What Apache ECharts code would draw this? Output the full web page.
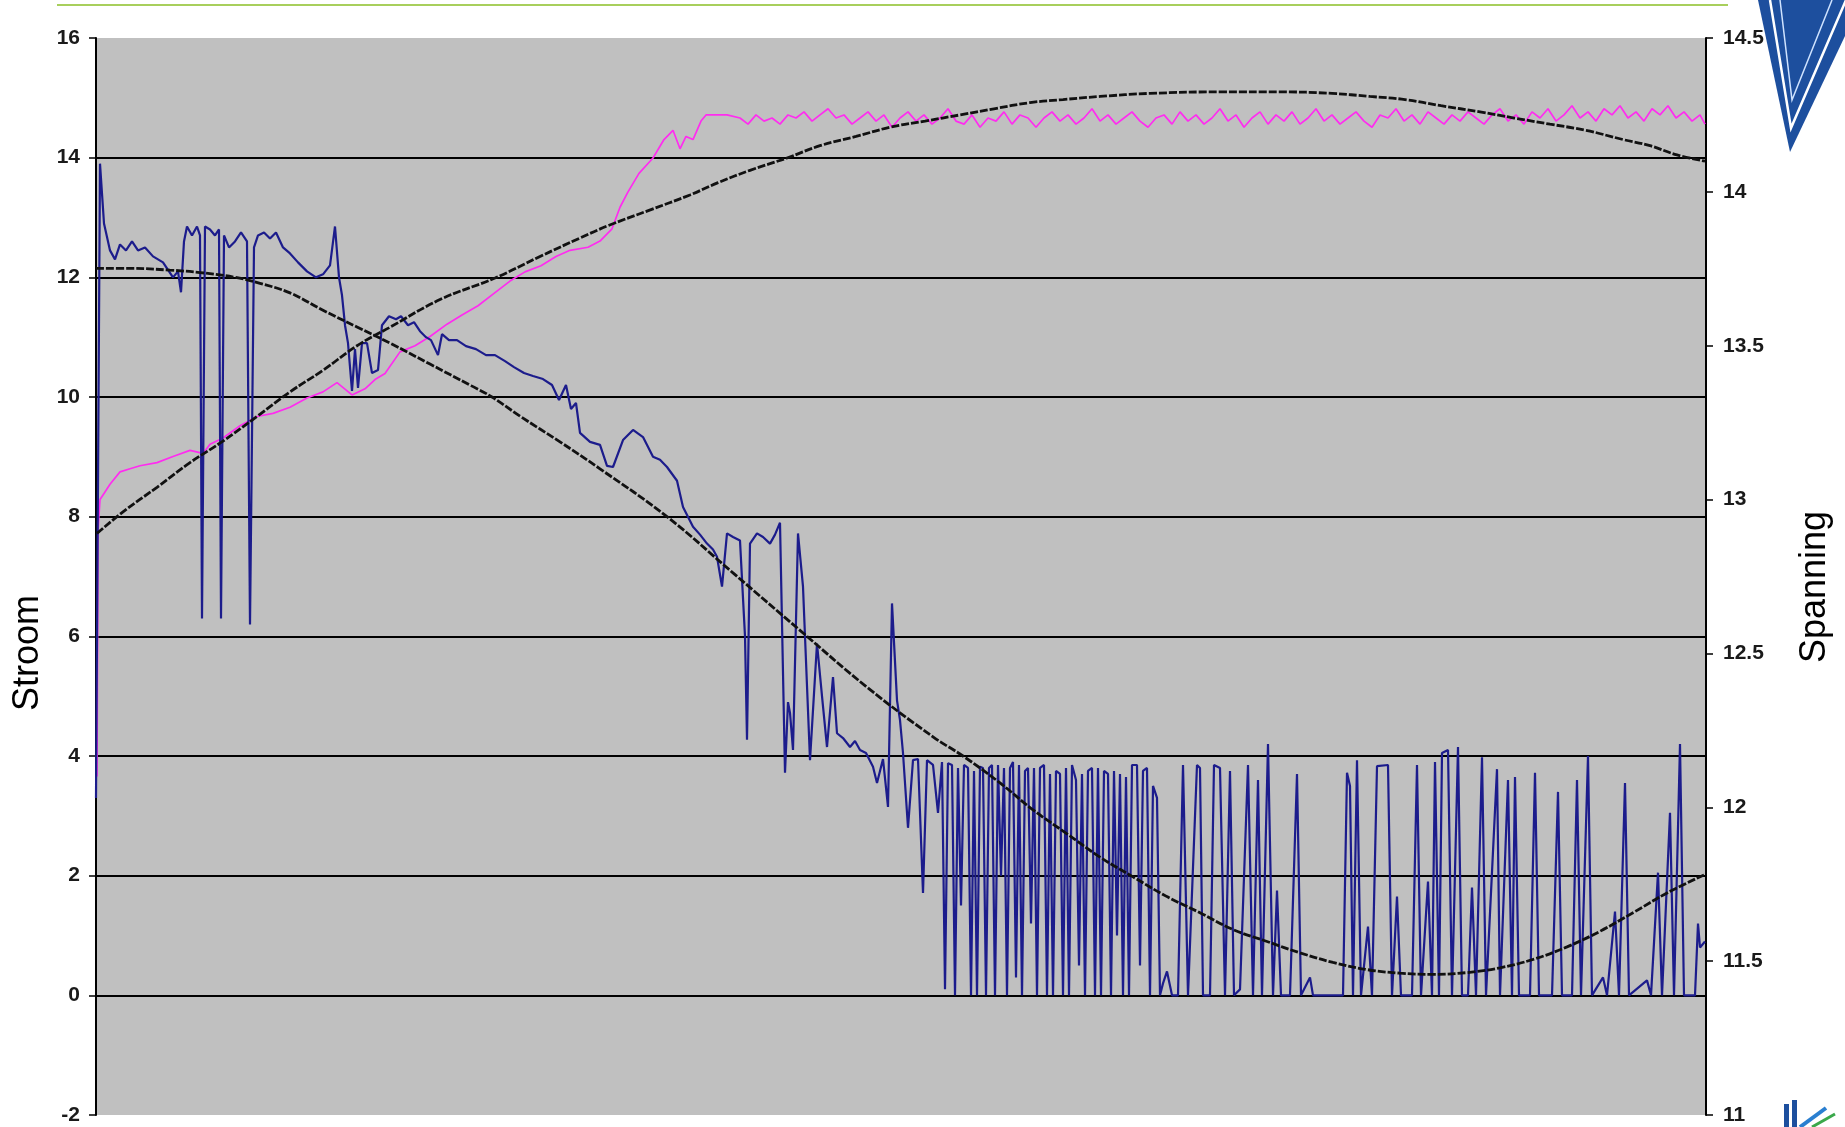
<!DOCTYPE html>
<html><head><meta charset="utf-8">
<script src="https://cdn.jsdelivr.net/npm/echarts@6/dist/echarts.min.js"></script>
<style>html,body{margin:0;padding:0;background:#fff;}#c{width:1845px;height:1127px;}</style>
</head><body><div id="c"></div>
<script>
// ---- tick labels ----
const stroomTicks = [-2, 0, 2, 4, 6, 8, 10, 12, 14, 16];
const spanningTicks = [11, 11.5, 12, 12.5, 13, 13.5, 14, 14.5];

// ---- Stroom (current, left axis) : time index, value ----
const stroomT = [0,2,4,7,9.5,12,15,18,21,24.5,28.5,33.5,38.5,41,42.5,44,45.5,48,50.5,52,53,54.5,57,59.5,61.5,62.5,64,66.5,69.5,72.5,75.5,77,79,81,84,87,90,93.5,97,101,105.5,110,113.5,117,119.5,121.5,123,124.5,126,128,129.5,131,133,135.5,138,141,143,146.5,150,152.5,156,159,162,165,167.5,171,173,176.5,180.5,185,190,195,199.5,204.5,209,214,218.5,223.5,228,231.5,235,237.5,240,242,247,252,255.5,258.5,263.5,268.5,273.5,278.5,282,285.5,290.5,293.5,298.5,302,305.5,308.5,310.5,313,315.5,318.5,322,324.5,325.5,327,330.5,333.5,337,339.5,342,344.5,346,347,348.5,351,353.5,357,360.5,363,365.5,368.5,370.5,373.5,377,379.5,382,385,388.5,390.5,393.5,396,398,400.5,402,403.5,406,408.5,411,413.5,415.5,418.5,421,423,
424.5,426,428,429.5,431,432.5,434,436,437.5,439,440.5,442,443.5,445,446.5,448,449.5,451,452.5,454,455.5,457,458.5,460,461.5,463,464.5,466,467.5,469,470.5,472,474,475.5,477,478.5,480,482,483.5,485,486.5,488,490,491.5,493,494.5,496,498,499.5,501,502.5,504,506,507.5,509,510.5,512,513.5,515,516.5,518,520.5,522,523.5,525.5,527,528.5,530.5,532,533.5,535.5,538,541,
543.5,546,550.5,552,553.5,557,559,562,564.5,567,569,572,576,578.5,581,583,586,588.5,590.5,592.5,597,600.5,602.5,607,608.5,623.5,625.5,627,628.5,630.5,632.5,636,638,640.5,646,648,650.5,652.5,658,660.5,662.5,666,668,669.5,671.5,673,676,678,681,683,686,688,690,693,695,700.5,702,706,708,709.5,711.5,717,719.5,721.5,728,731,733,738,740.5,742.5,746,748,753.5,755.5,759.5,761.5,764.5,766.5,775.5,777.5,781,783,787,789,792,794,799.5,801,802,804.5];
const stroomA = [3.3,13.9,12.9,12.45,12.3,12.55,12.45,12.6,12.45,12.5,12.35,12.25,12.0,12.1,11.75,12.6,12.85,12.7,12.85,12.7,6.3,12.85,12.8,12.7,12.8,6.3,12.7,12.5,12.6,12.75,12.6,6.2,12.5,12.7,12.75,12.65,12.75,12.5,12.4,12.25,12.1,12.0,12.05,12.2,12.85,12.0,11.7,11.2,10.9,10.1,10.8,10.15,10.9,10.9,10.4,10.45,11.2,11.35,11.3,11.35,11.2,11.25,11.1,11.0,10.95,10.7,11.05,10.95,10.95,10.85,10.8,10.7,10.7,10.6,10.5,10.4,10.35,10.3,10.2,9.95,10.2,9.8,9.9,9.4,9.25,9.2,8.85,8.83,9.28,9.45,9.33,9.0,8.95,8.83,8.6,8.16,7.83,7.7,7.55,7.45,7.33,6.83,7.72,7.66,7.6,6.0,4.27,7.55,7.72,7.66,7.55,7.7,7.9,3.72,4.9,4.72,4.1,7.72,6.83,3.93,5.88,5.0,4.15,5.32,4.38,4.3,4.15,4.25,4.1,4.05,3.82,3.55,3.95,3.15,6.55,4.93,4.6,4.05,2.8,3.93,3.95,1.71,3.93,3.85,3.05,3.9,
0.1,3.88,3.85,0.0,3.8,1.5,3.85,3.8,0.0,3.75,0.0,3.82,3.8,0.0,3.8,3.85,0.0,3.85,2.0,3.8,0.0,3.8,3.9,0.3,3.85,0.0,3.75,3.8,1.2,3.8,0.0,3.8,3.85,0.0,3.7,0.0,3.75,3.7,0.0,3.8,0.0,3.85,3.6,0.5,3.7,0.0,3.75,3.8,0.0,3.8,0.0,3.75,3.7,0.0,3.75,1.0,3.7,0.0,3.65,0.0,3.85,3.85,0.5,3.75,3.8,0.0,3.5,3.3,0.0,0.2,0.4,0.0,0.0,
3.85,0.0,3.85,3.8,0.0,0.0,3.85,3.8,0.0,3.75,0.0,0.1,3.85,0.0,3.6,0.0,4.2,0.0,1.75,0.0,0.0,3.7,0.0,0.3,0.0,0.0,3.72,3.5,0.0,3.93,0.0,1.15,0.0,3.83,3.85,0.0,1.65,0.0,0.0,3.85,0.0,1.9,0.0,3.9,0.0,4.05,4.1,0.0,4.15,0.0,0.0,1.8,0.0,3.98,0.0,3.78,0.0,3.6,0.0,3.65,0.0,0.0,3.72,0.0,0.0,3.4,0.0,0.0,3.6,0.0,4.0,0.0,0.3,0.0,1.4,0.0,3.55,0.0,0.25,0.0,2.05,0.0,3.05,0.0,4.2,0.0,0.0,1.2,0.8,0.9];

// ---- Spanning (voltage, right axis) ----
const spanningT = [0.5,1,2,4,7,12,17,22,30.5,38.5,47,53.5,57,63.5,72,80.5,88.5,97,105.5,113.5,120.5,128,134.5,139.5,144.5,152,159.5,167,175.5,183,191,199,207,214.5,222.5,230,237,246,252,258,262,266,271.5,278.5,284,288.5,292,295,298.5,302.5,305,315.5,322,326,330,334,338,342,346,350,354,358,362,366,370,374,378,382,386,390,394,398,402,406,410,414,418,422,426,430,434,438,442,446,450,454,458,462,466,470,474,478,482,486,490,494,498,502,506,510,514,518,522,526,530,534,538,542,546,550,554,558,562,566,570,574,578,582,586,590,594,598,602,606,610,614,618,622,626,630,634,638,642,646,650,654,658,662,666,670,674,678,682,686,690,694,698,702,706,710,714,718,722,726,730,734,738,742,746,750,754,758,762,766,770,774,778,782,786,790,794,798,802,804.5];
const spanningV = [12.1,12.9,13.0,13.02,13.05,13.09,13.1,13.11,13.12,13.14,13.16,13.15,13.18,13.2,13.24,13.27,13.28,13.3,13.33,13.35,13.38,13.34,13.36,13.39,13.41,13.48,13.5,13.53,13.57,13.6,13.63,13.67,13.71,13.74,13.76,13.79,13.81,13.82,13.84,13.88,13.95,14.0,14.06,14.11,14.17,14.2,14.14,14.18,14.17,14.23,14.25,14.25,14.24,14.22,14.25,14.23,14.24,14.22,14.25,14.24,14.26,14.23,14.25,14.27,14.24,14.25,14.22,14.24,14.26,14.23,14.25,14.21,14.24,14.26,14.23,14.25,14.22,14.24,14.27,14.23,14.22,14.25,14.21,14.24,14.23,14.26,14.22,14.25,14.24,14.21,14.24,14.26,14.23,14.25,14.22,14.24,14.27,14.23,14.25,14.22,14.24,14.26,14.23,14.21,14.24,14.25,14.22,14.26,14.23,14.25,14.22,14.24,14.27,14.23,14.25,14.21,14.24,14.26,14.22,14.25,14.23,14.26,14.22,14.24,14.27,14.23,14.25,14.22,14.24,14.26,14.23,14.21,14.25,14.24,14.27,14.23,14.25,14.22,14.26,14.24,14.22,14.25,14.23,14.26,14.24,14.22,14.25,14.27,14.23,14.25,14.22,14.26,14.24,14.27,14.23,14.25,14.28,14.24,14.26,14.23,14.27,14.25,14.28,14.24,14.26,14.23,14.27,14.25,14.28,14.24,14.26,14.23,14.25,14.22];

// ---- trend lines ----
const stroomTrendT = [0,17,37,52,69.5,82,97,113.5,130.5,147,167,187.5,198,212,232,252,285.5,318.5,352,385.5,418.5,433.5,452,468.5,485.5,502,518.5,535.5,552,568.5,585.5,602,618.5,635.5,652,668.5,685.5,702,718.5,735.5,752,768.5,785.5,804.5];
const stroomTrendA = [12.15,12.15,12.12,12.08,12.0,11.9,11.74,11.45,11.17,10.9,10.55,10.19,10.0,9.68,9.25,8.8,8.0,7.06,6.1,5.15,4.32,4.0,3.55,3.1,2.7,2.31,1.98,1.65,1.38,1.1,0.9,0.71,0.55,0.43,0.37,0.35,0.38,0.46,0.6,0.81,1.07,1.38,1.71,2.02];
const spanningTrendT = [0.5,13.5,30.5,47,63.5,80.5,97,113.5,130.5,147,172,199.5,222,242,256,276.5,297,311,327,345.5,362,380,397,414.5,432,449,467,483.5,502,527,563.5,592,618,637,654.5,672.5,692,709,727,745,763.5,777,790.5,804.5];
const spanningTrendV = [12.89,12.96,13.04,13.12,13.19,13.27,13.35,13.42,13.5,13.56,13.65,13.72,13.79,13.85,13.89,13.94,13.99,14.03,14.07,14.11,14.15,14.18,14.21,14.23,14.25,14.27,14.29,14.3,14.31,14.32,14.325,14.325,14.32,14.31,14.3,14.28,14.26,14.24,14.22,14.2,14.17,14.15,14.12,14.1];

const pairs = (T, V) => T.map((t, i) => [t, V[i]]);
const labelFont = "'Liberation Sans Narrow','Liberation Sans',Arial,sans-serif";

const chart = echarts.init(document.getElementById('c'), null, {renderer: 'canvas'});
chart.setOption({
  backgroundColor: '#ffffff',
  animation: false,
  grid: {left: 96, right: 139, top: 38, bottom: 12, show: true, backgroundColor: '#c0c0c0', borderWidth: 0},
  xAxis: {type: 'value', min: 0, max: 805, show: false},
  yAxis: [
    {
      type: 'value', position: 'left',
      min: stroomTicks[0], max: stroomTicks[stroomTicks.length - 1], interval: stroomTicks[1] - stroomTicks[0],
      axisLine: {show: true, onZero: false, lineStyle: {color: '#000', width: 2}},
      axisTick: {show: true, length: 7, lineStyle: {color: '#000', width: 1.5}},
      axisLabel: {margin: 16, color: '#1a1a1a', fontSize: 21, fontWeight: 'bold', fontFamily: labelFont},
      splitLine: {show: true, showMinLine: false, showMaxLine: false, lineStyle: {color: '#000', width: 2}}
    },
    {
      type: 'value', position: 'right',
      min: spanningTicks[0], max: spanningTicks[spanningTicks.length - 1], interval: spanningTicks[1] - spanningTicks[0],
      axisLine: {show: true, onZero: false, lineStyle: {color: '#000', width: 2}},
      axisTick: {show: true, length: 7, lineStyle: {color: '#000', width: 1.5}},
      axisLabel: {margin: 17, color: '#1a1a1a', fontSize: 21, fontWeight: 'bold', fontFamily: labelFont},
      splitLine: {show: false}
    }
  ],
  series: [
    {name: 'Spanning', type: 'line', yAxisIndex: 1, data: pairs(spanningT, spanningV), showSymbol: false,
     lineStyle: {color: '#ff2cf0', width: 1.7}, z: 2},
    {name: 'Stroom', type: 'line', yAxisIndex: 0, data: pairs(stroomT, stroomA), showSymbol: false,
     lineStyle: {color: '#1c1c8c', width: 2.2}, z: 3},
    {name: 'Trend stroom', type: 'line', yAxisIndex: 0, data: pairs(stroomTrendT, stroomTrendA), showSymbol: false, smooth: 0.4,
     lineStyle: {color: '#111', width: 2.8, type: [8, 2]}, z: 4},
    {name: 'Trend spanning', type: 'line', yAxisIndex: 1, data: pairs(spanningTrendT, spanningTrendV), showSymbol: false, smooth: 0.4,
     lineStyle: {color: '#111', width: 2.8, type: [8, 2]}, z: 4}
  ],
  graphic: [
    {type: 'line', shape: {x1: 57, y1: 5, x2: 1728, y2: 5}, style: {stroke: '#a8cf5c', lineWidth: 2}},
    {type: 'polygon', shape: {points: [[1758, 0], [1862, 0], [1790, 152]]}, style: {fill: '#1d4f9e'}},
    {type: 'polyline', shape: {points: [[1770, 0], [1791, 128], [1846, 0]]}, style: {stroke: '#ffffff', lineWidth: 2.5, fill: null}},
    {type: 'polyline', shape: {points: [[1780, 0], [1792, 100], [1832, 0]]}, style: {stroke: '#cfe3ff', lineWidth: 1.5, fill: null}},
    {type: 'rect', shape: {x: 1784, y: 1104, width: 5, height: 23}, style: {fill: '#1d4f9e'}},
    {type: 'rect', shape: {x: 1792, y: 1100, width: 5, height: 27}, style: {fill: '#1d4f9e'}},
    {type: 'line', shape: {x1: 1800, y1: 1127, x2: 1826, y2: 1108}, style: {stroke: '#2a7fd0', lineWidth: 4}},
    {type: 'line', shape: {x1: 1812, y1: 1127, x2: 1835, y2: 1114}, style: {stroke: '#3aa84a', lineWidth: 3}},
    {type: 'text', x: 28, y: 653, rotation: Math.PI / 2,
     style: {text: 'Stroom', font: "36px 'Liberation Sans', Arial, sans-serif", fill: '#000',
             textAlign: 'center', textVerticalAlign: 'middle', align: 'center', verticalAlign: 'middle'}},
    {type: 'text', x: 1815, y: 587, rotation: Math.PI / 2,
     style: {text: 'Spanning', font: "36px 'Liberation Sans', Arial, sans-serif", fill: '#000',
             textAlign: 'center', textVerticalAlign: 'middle', align: 'center', verticalAlign: 'middle'}}
  ]
});
</script></body></html>
